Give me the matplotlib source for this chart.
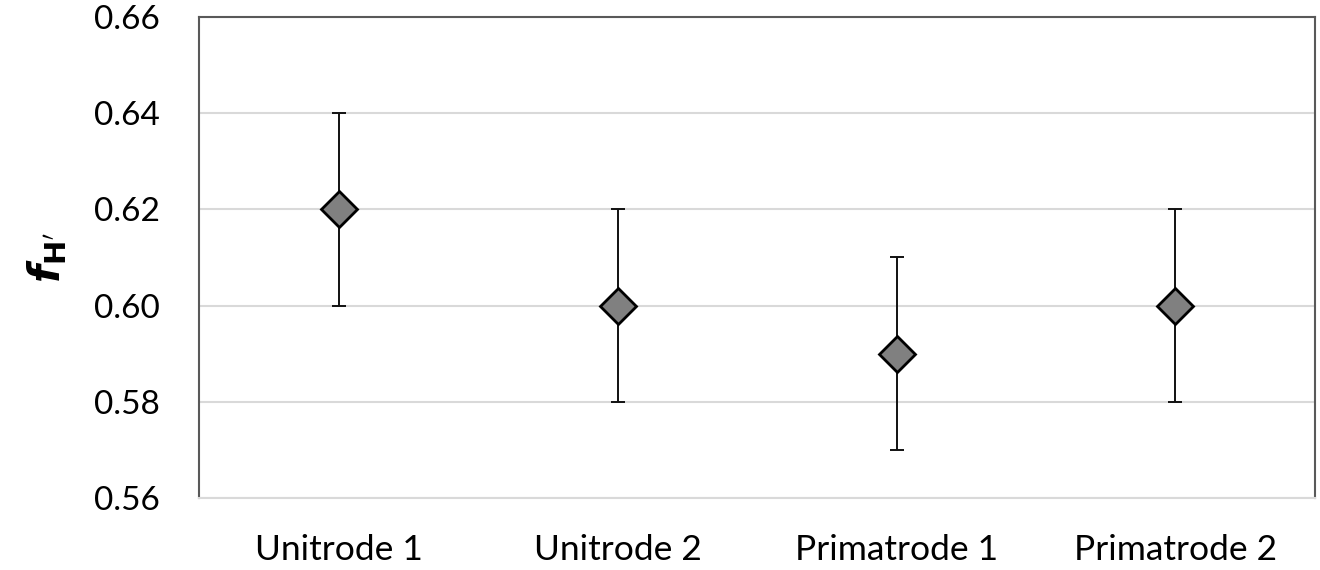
import matplotlib
matplotlib.use('Agg')
import matplotlib.pyplot as plt

# Datos del gráfico
categorias = ["Unitrode 1", "Unitrode 2", "Primatrode 1", "Primatrode 2"]
valores = [0.62, 0.60, 0.59, 0.60]
errores = [0.02, 0.02, 0.02, 0.02]
ticks_y = [0.56, 0.58, 0.60, 0.62, 0.64, 0.66]

plt.rcParams['font.family'] = ['Lato', 'DejaVu Sans']
plt.rcParams['mathtext.fontset'] = 'dejavusans'

fig = plt.figure(figsize=(13.2, 5.7), dpi=100)
ax = fig.add_axes([0.1508, 0.1263, 0.8454, 0.8439])

x = list(range(len(categorias)))
ax.errorbar(x, valores, yerr=errores, fmt='none', ecolor='#111111',
            elinewidth=1.4, capsize=5, capthick=1.4, zorder=3)
ax.plot(x, valores, linestyle='none', marker='D', markersize=18,
        markerfacecolor='#808080', markeredgecolor='#000000',
        markeredgewidth=2.0, zorder=4)

ax.set_xlim(-0.5, len(categorias) - 0.5)
ax.set_ylim(0.56, 0.66)
ax.set_yticks(ticks_y)
ax.set_yticklabels([f"{t:.2f}" for t in ticks_y])
ax.set_xticks(x)
ax.set_xticklabels(categorias)

ax.yaxis.grid(True, color='#d9d9d9', linewidth=1.5)
ax.set_axisbelow(True)

for lado in ('top', 'right', 'left'):
    ax.spines[lado].set_color('#595959')
    ax.spines[lado].set_linewidth(1.5)
ax.spines['bottom'].set_color('#d9d9d9')
ax.spines['bottom'].set_linewidth(1.5)

ax.tick_params(axis='y', length=0, labelsize=24, colors='#000000', pad=28)
ax.tick_params(axis='x', length=0, labelsize=25.5, colors='#000000', pad=26)

ax.set_ylabel(r"$\mathbfit{f}_{\mathbf{H'}}$", fontsize=30, labelpad=18)

fig.savefig("out.png", dpi=100)
